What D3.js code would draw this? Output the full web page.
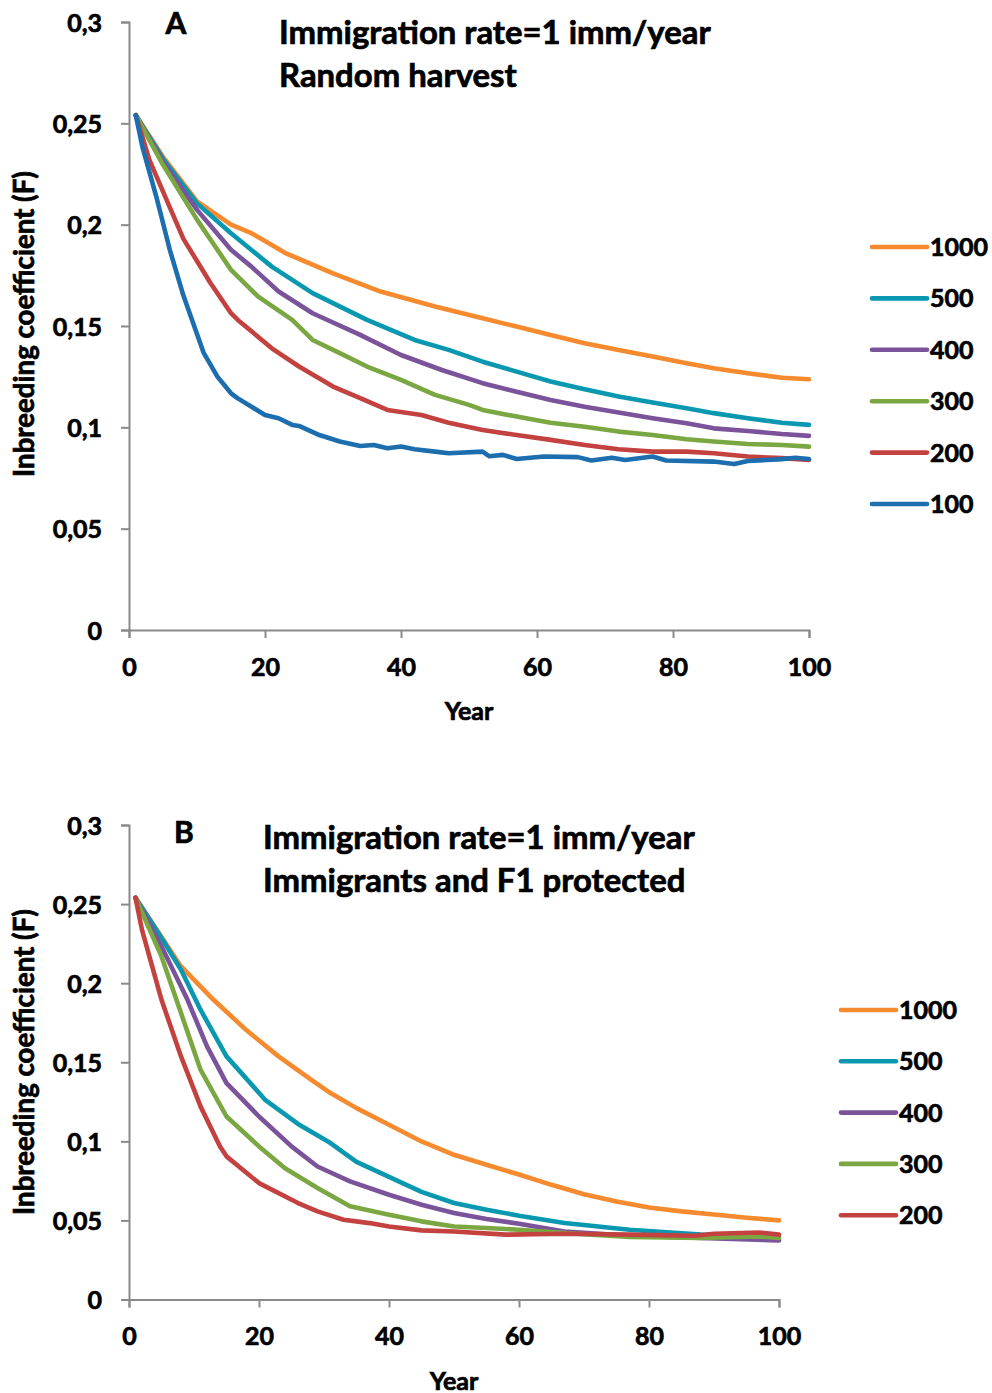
<!DOCTYPE html>
<html>
<head>
<meta charset="utf-8">
<script src="https://cdn.jsdelivr.net/npm/d3@7"></script>
<style>
  html, body { margin: 0; padding: 0; background: #fff; }
  svg { display: block; }
  text { font-family: Lato, "Open Sans", sans-serif; font-weight: 700; fill: #000; stroke: #000; stroke-width: 0.7px; }
</style>
</head>
<body>
<svg id="chart" width="992" height="1393"></svg>
<script>
// ---------------- DATA ----------------
const xTicks = [0, 20, 40, 60, 80, 100];
const yTicks = [0, 0.05, 0.1, 0.15, 0.2, 0.25, 0.3];
const yTickLabels = ["0", "0,05", "0,1", "0,15", "0,2", "0,25", "0,3"];

const seriesLabelsA = ["1000", "500", "400", "300", "200", "100"];
const seriesLabelsB = ["1000", "500", "400", "300", "200"];

// Panel A: Random harvest  [year, F]
const A_1000 = [[1,.254],[5,.2335],[10,.2115],[15,.200],[18,.1958],[23,.186],[30,.176],[37,.167],[45,.1596],[52,.1538],[57,.1497],[62,.1456],[67,.1415],[72,.1382],[77,.1349],[82,.1316],[86,.1292],[91,.1267],[96,.1245],[100,.1237]];
const A_500  = [[1,.254],[5,.2325],[10,.2105],[15,.1958],[21,.1793],[27,.1662],[35,.153],[42,.1431],[47,.1382],[52,.1324],[57,.1275],[62,.1226],[67,.1188],[72,.1152],[77,.1122],[82,.1094],[86,.107],[91,.1045],[96,.1023],[100,.1012]];
const A_400  = [[1,.254],[5,.231],[10,.2073],[15,.1876],[18,.1793],[22,.167],[27,.1563],[34,.1456],[40,.1357],[46,.1283],[52,.1218],[57,.1176],[62,.1135],[67,.1102],[72,.1073],[77,.1045],[82,.102],[86,.0995],[91,.0982],[96,.0967],[100,.0958]];
const A_300  = [[1,.254],[5,.2295],[10,.2025],[15,.1777],[19,.1645],[24,.153],[27,.1431],[31,.1366],[35,.13],[40,.1234],[45,.116],[50,.1111],[52,.1086],[57,.1053],[62,.1023],[67,.1003],[72,.0979],[77,.0962],[82,.0941],[86,.093],[91,.0918],[96,.0913],[100,.0905]];
const A_200  = [[1,.254],[3,.232],[6,.2085],[8,.193],[12,.1711],[15,.1563],[16,.153],[21,.139],[25,.13],[30,.1201],[34,.1144],[38,.1086],[43,.1061],[47,.1023],[52,.0987],[57,.0962],[62,.0938],[67,.0913],[72,.0892],[77,.088],[82,.088],[86,.0872],[91,.0856],[96,.0848],[100,.0839]];
const A_100  = [[1,.254],[2,.238],[4,.214],[6,.1876],[8,.165],[11,.1366],[13,.125],[15,.1168],[16,.1143],[20,.1061],[22,.1045],[24,.1012],[25,.1007],[28,.0962],[31,.093],[34,.0908],[36,.0913],[38,.0897],[40,.0905],[42,.0892],[45,.088],[47,.0872],[52,.088],[53,.0857],[55,.0864],[57,.0844],[61,.0856],[66,.0853],[68,.0836],[71,.085],[73,.0839],[77,.0856],[79,.0836],[86,.0831],[89,.0819],[91,.0834],[96,.0843],[98,.085],[100,.0844]];

// Panel B: Immigrants and F1 protected  [year, F]
const B_1000 = [[1,.254],[4,.2355],[8,.2106],[13,.1895],[18,.1705],[23,.1537],[28,.139],[31,.1305],[35,.121],[40,.1105],[45,.0999],[50,.0915],[55,.0852],[60,.079],[65,.0725],[70,.0665],[75,.0619],[80,.0582],[85,.0557],[90,.0537],[95,.0517],[100,.05]];
const B_500  = [[1,.254],[5,.2285],[8,.2085],[11,.1832],[15,.1537],[21,.126],[26,.111],[31,.0989],[35,.087],[40,.0775],[45,.068],[50,.061],[55,.0568],[60,.053],[67,.0484],[77,.0441],[88,.041],[100,.0389]];
const B_400  = [[1,.254],[5,.2232],[9,.1895],[12,.16],[15,.1368],[20,.1157],[25,.0968],[29,.0841],[34,.0747],[40,.0662],[45,.0599],[50,.0547],[55,.0509],[60,.0479],[67,.043],[77,.0403],[88,.0389],[100,.0374]];
const B_300  = [[1,.254],[5,.2169],[8,.1811],[11,.1453],[15,.1157],[20,.0968],[24,.083],[29,.0705],[34,.0589],[40,.0536],[45,.0494],[50,.0462],[55,.0452],[60,.0441],[67,.042],[77,.0395],[88,.0389],[97,.0399],[100,.0389]];
const B_200  = [[1,.254],[2,.2337],[5,.1895],[8,.1537],[11,.1221],[14,.0968],[15,.0905],[20,.0736],[26,.061],[29,.0557],[33,.0504],[37,.0483],[40,.0462],[45,.0437],[50,.043],[58,.041],[67,.0416],[77,.041],[87,.0403],[90,.0416],[97,.0424],[100,.041]];

const seriesA = [A_1000, A_500, A_400, A_300, A_200, A_100];
const seriesB = [B_1000, B_500, B_400, B_300, B_200];

// ---------------- STYLE ----------------
const colors = ["#F68A2E", "#0A98B1", "#7A539A", "#7AA742", "#C3423F", "#1C6EAE"];

const svg = d3.select("#chart");

function fit(sel, target) {
  const w = sel.node().getComputedTextLength();
  const fs = parseFloat(sel.attr("font-size"));
  sel.attr("font-size", fs * target / w);
}

function panel(cfg) {
  const x = d3.scaleLinear().domain([0, 100]).range([cfg.x0, cfg.x1]);
  const y = d3.scaleLinear().domain([0, 0.3]).range([cfg.y0, cfg.y1]);
  const g = svg.append("g");

  // y axis
  const yAxis = g.append("g").attr("transform", `translate(${cfg.x0},0)`)
    .call(d3.axisLeft(y).tickValues(yTicks).tickSize(8).tickFormat((d, i) => yTickLabels[i]));
  yAxis.select(".domain").attr("stroke", "#8a8a8a").attr("stroke-width", 2);
  yAxis.selectAll(".tick line").attr("stroke", "#8a8a8a").attr("stroke-width", 2);
  yAxis.selectAll(".tick text").attr("font-size", 25).attr("font-family", "Lato").attr("font-weight", 700)
    .attr("fill", "#000").attr("x", -27).attr("dy", "0.36em");

  // x axis
  const xAxis = g.append("g").attr("transform", `translate(0,${cfg.y0})`)
    .call(d3.axisBottom(x).tickValues(xTicks).tickSize(8).tickFormat(d3.format("d")));
  xAxis.select(".domain").attr("stroke", "#8a8a8a").attr("stroke-width", 2);
  xAxis.selectAll(".tick line").attr("stroke", "#8a8a8a").attr("stroke-width", 2);
  xAxis.selectAll(".tick text").attr("font-size", 25).attr("font-family", "Lato").attr("font-weight", 700)
    .attr("fill", "#000").attr("y", 28).attr("dy", "0.71em");

  // lines
  const line = d3.line().x(d => x(d[0])).y(d => y(d[1]));
  cfg.series.forEach((s, i) => {
    g.append("path").datum(s).attr("d", line)
      .attr("fill", "none").attr("stroke", colors[i]).attr("stroke-width", 4.6)
      .attr("stroke-linejoin", "round").attr("stroke-linecap", "round");
  });

  // axis titles
  g.append("text").attr("x", cfg.yearX).attr("y", cfg.y0 + 90).attr("text-anchor", "middle")
    .attr("font-size", 25).text("Year");
  const yt = g.append("text").attr("transform", `translate(34,${cfg.yTitleY}) rotate(-90)`)
    .attr("text-anchor", "middle").attr("font-size", 24).text("Inbreeding coefficient (F)");
  fit(yt, 306);

  // panel letter and title
  g.append("text").attr("x", cfg.letterX).attr("y", cfg.letterY).attr("text-anchor", "middle")
    .attr("font-size", 30).text(cfg.letter);
  const t1 = g.append("text").attr("x", cfg.titleX).attr("y", cfg.titleY).attr("font-size", 30).text(cfg.title1);
  fit(t1, 432);
  const t2 = g.append("text").attr("x", cfg.titleX).attr("y", cfg.titleY + 43).attr("font-size", 30).text(cfg.title2);
  t2.attr("font-size", t1.attr("font-size"));

  // legend
  cfg.labels.forEach((lab, i) => {
    const ly = cfg.legY + i * cfg.legStep;
    g.append("line").attr("x1", cfg.legX).attr("x2", cfg.legX + 55).attr("y1", ly).attr("y2", ly)
      .attr("stroke", colors[i]).attr("stroke-width", 4.6).attr("stroke-linecap", "round");
    g.append("text").attr("x", cfg.legX + 58).attr("y", ly).attr("dy", "0.36em")
      .attr("font-size", 25).text(lab);
  });
}

panel({
  x0: 129, x1: 809, y0: 630, y1: 22,
  series: seriesA, labels: seriesLabelsA,
  yearX: 469, yTitleY: 324,
  letter: "A", letterX: 176, letterY: 34,
  title1: "Immigration rate=1 imm/year", title2: "Random harvest", titleX: 279, titleY: 44,
  legX: 872, legY: 247, legStep: 51.4
});

panel({
  x0: 129, x1: 779, y0: 1299.5, y1: 825,
  series: seriesB, labels: seriesLabelsB,
  yearX: 454, yTitleY: 1062,
  letter: "B", letterX: 184, letterY: 843,
  title1: "Immigration rate=1 imm/year", title2: "Immigrants and F1 protected", titleX: 263, titleY: 849,
  legX: 841, legY: 1010, legStep: 51.3
});
</script>
</body>
</html>
